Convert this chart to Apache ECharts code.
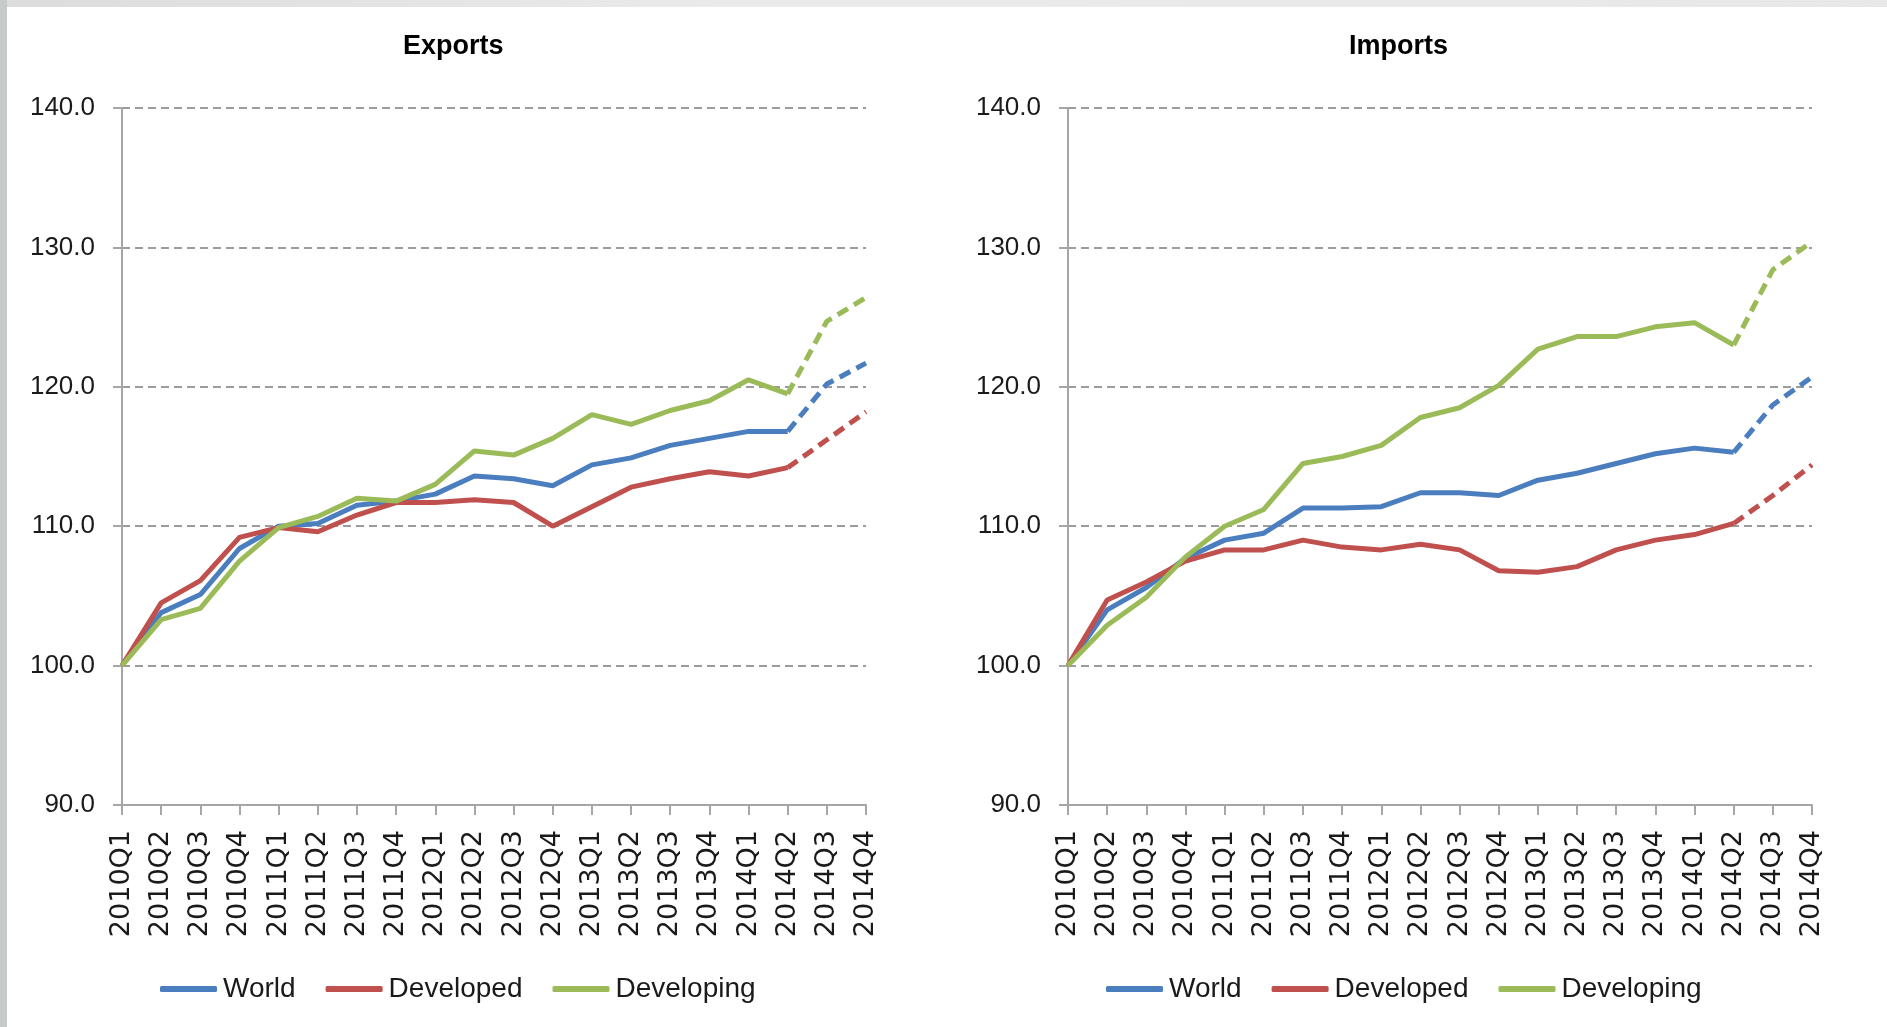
<!DOCTYPE html>
<html>
<head>
<meta charset="utf-8">
<title>Exports / Imports</title>
<script src="https://cdn.jsdelivr.net/npm/echarts@6/dist/echarts.min.js"></script>
<style>
  html, body { margin: 0; padding: 0; background: #fff; }
  #chart { position: absolute; left: 0; top: 0; width: 1887px; height: 1027px; }
  .edge-top { position: absolute; left: 0; top: 0; width: 1887px; height: 7px; background: linear-gradient(90deg, #dcdcdc, #ebebeb 40%, #e8e8e8); z-index: 2; }
  .edge-left { position: absolute; left: 0; top: 0; width: 7px; height: 1027px; background: #c6caca; z-index: 2; }
</style>
</head>
<body>
<div id="chart"></div>
<div class="edge-top"></div>
<div class="edge-left"></div>
<script>
const quarters = ['2010Q1', '2010Q2', '2010Q3', '2010Q4', '2011Q1', '2011Q2', '2011Q3', '2011Q4',
  '2012Q1', '2012Q2', '2012Q3', '2012Q4', '2013Q1', '2013Q2', '2013Q3', '2013Q4',
  '2014Q1', '2014Q2', '2014Q3', '2014Q4']
const seriesNames = ['World', 'Developed', 'Developing']
const colors = ['#4a7ebf', '#c0504d', '#9bbb59']
const projStart = 17 // 2014Q2 onward drawn dashed (forecast)

const exportsWorld = [100, 103.8, 105.1, 108.4, 110.0, 110.2, 111.5, 111.8, 112.3, 113.6, 113.4, 112.9, 114.4, 114.9, 115.8, 116.3, 116.8, 116.8, 120.2, 121.7]
const exportsDeveloped = [100, 104.5, 106.1, 109.2, 109.9, 109.6, 110.8, 111.7, 111.7, 111.9, 111.7, 110.0, 111.4, 112.8, 113.4, 113.9, 113.6, 114.2, 116.2, 118.2]
const exportsDeveloping = [100, 103.3, 104.1, 107.5, 109.9, 110.7, 112.0, 111.8, 113.0, 115.4, 115.1, 116.3, 118.0, 117.3, 118.3, 119.0, 120.5, 119.5, 124.7, 126.4]

const importsWorld = [100, 104.0, 105.6, 107.7, 109.0, 109.5, 111.3, 111.3, 111.4, 112.4, 112.4, 112.2, 113.3, 113.8, 114.5, 115.2, 115.6, 115.3, 118.7, 120.7]
const importsDeveloped = [100, 104.7, 106.0, 107.5, 108.3, 108.3, 109.0, 108.5, 108.3, 108.7, 108.3, 106.8, 106.7, 107.1, 108.3, 109.0, 109.4, 110.2, 112.2, 114.4]
const importsDeveloping = [100, 102.9, 104.9, 107.8, 110.0, 111.2, 114.5, 115.0, 115.8, 117.8, 118.5, 120.1, 122.7, 123.6, 123.6, 124.3, 124.6, 123.0, 128.4, 130.4]

const chart = echarts.init(document.getElementById('chart'))

const axisColor = '#a6a6a6'
const gridColor = '#9c9c9c'
const labelColor = '#1a1a1a'

function makeX(gridIndex) {
  return {
    gridIndex: gridIndex,
    type: 'category',
    boundaryGap: false,
    data: quarters,
    axisLine: { lineStyle: { color: axisColor, width: 2 } },
    axisTick: { show: true, interval: 0, length: 10, lineStyle: { color: axisColor, width: 2 } },
    axisLabel: {
      interval: 0, rotate: 90, margin: 25,
      fontFamily: 'DejaVu Sans', fontSize: 27, color: labelColor
    }
  }
}

function makeY(gridIndex) {
  return {
    gridIndex: gridIndex,
    type: 'value',
    min: 90,
    max: 140,
    interval: 10,
    axisLine: { show: true, lineStyle: { color: axisColor, width: 2 } },
    axisTick: { show: true, length: 9, lineStyle: { color: axisColor, width: 2 } },
    axisLabel: {
      margin: 27,
      formatter: v => v.toFixed(1),
      fontFamily: 'Liberation Sans', fontSize: 26, color: labelColor
    },
    splitLine: { lineStyle: { color: gridColor, width: 2, type: [8, 5] } }
  }
}

// solid part up to projStart, dashed part from projStart
function lines(values, idx) {
  const out = []
  values.forEach((arr, k) => {
    out.push({
      name: seriesNames[k], type: 'line', xAxisIndex: idx, yAxisIndex: idx,
      data: arr.map((v, i) => i <= projStart ? v : null),
      symbol: 'none', color: colors[k],
      lineStyle: { width: 5, color: colors[k] }
    })
  })
  values.forEach((arr, k) => {
    out.push({
      name: seriesNames[k], type: 'line', xAxisIndex: idx, yAxisIndex: idx,
      data: arr.map((v, i) => i >= projStart ? v : null),
      symbol: 'none', color: colors[k],
      lineStyle: { width: 5, color: colors[k], type: [12, 7] }
    })
  })
  return out
}

const legendBase = {
  top: 975,
  padding: 0,
  icon: 'roundRect',
  itemWidth: 57,
  itemHeight: 6,
  itemGap: 30,
  data: seriesNames,
  textStyle: { fontFamily: 'Liberation Sans', fontSize: 28, color: labelColor, padding: [0, 0, 0, 1] }
}

const titleStyle = { fontFamily: 'Liberation Sans', fontWeight: 'bold', fontSize: 27, color: '#000' }

chart.setOption({
  animation: false,
  backgroundColor: '#fff',
  title: [
    { text: 'Exports', left: 403, top: 33, padding: 0, textStyle: titleStyle },
    { text: 'Imports', left: 1349, top: 33, padding: 0, textStyle: titleStyle }
  ],
  legend: [
    Object.assign({}, legendBase, { left: 160 }),
    Object.assign({}, legendBase, { left: 1106 })
  ],
  grid: [
    { left: 122, top: 108, width: 744, height: 697 },
    { left: 1068, top: 108, width: 744, height: 697 }
  ],
  xAxis: [makeX(0), makeX(1)],
  yAxis: [makeY(0), makeY(1)],
  series: [].concat(
    lines([exportsWorld, exportsDeveloped, exportsDeveloping], 0),
    lines([importsWorld, importsDeveloped, importsDeveloping], 1)
  )
})
</script>
</body>
</html>
